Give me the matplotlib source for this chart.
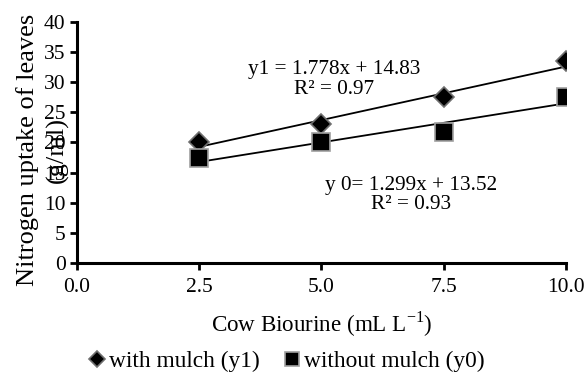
import numpy as np
import matplotlib
matplotlib.use("Agg")
import matplotlib.pyplot as plt

plt.rcParams["font.family"] = ["Liberation Serif", "DejaVu Serif"]
plt.rcParams["mathtext.fontset"] = "custom"
plt.rcParams["mathtext.rm"] = "Liberation Serif"

# 数据
dose = [2.5, 5.0, 7.5, 10.0]
with_mulch = [20.0, 23.0, 27.5, 33.5]
without_mulch = [17.5, 20.0, 21.8, 27.6]
# 趋势线系数 (图中方程)
fit_y1 = (1.778, 14.83)
fit_y0 = (1.299, 13.52)

fig = plt.figure(figsize=(5.86, 3.73), dpi=100)
ax = fig.add_axes([0.131, 0.295, 0.835, 0.646])

xs = np.array([dose[0], dose[-1]])
ax.plot(xs, fit_y1[0] * xs + fit_y1[1], color="black", lw=1.3, zorder=2)
ax.plot(xs, fit_y0[0] * xs + fit_y0[1], color="black", lw=1.3, zorder=2)

ax.plot(dose, with_mulch, ls="none", marker="D", ms=10.5, mfc="black",
        mec="#6f6f6f", mew=1.2, label="with mulch (y1)", zorder=3)
ax.plot(dose, without_mulch, ls="none", marker="s", ms=13, mfc="black",
        mec="#a0a0a0", mew=1.2, label="without mulch (y0)", zorder=3)

ax.text(5.26, 30.4, "y1 = 1.778x + 14.83\nR\u00b2 = 0.97", ha="center",
        va="center", fontsize=15.3, linespacing=1.05)
ax.text(6.83, 11.3, "y 0= 1.299x + 13.52\nR\u00b2 = 0.93", ha="center",
        va="center", fontsize=15.3, linespacing=1.05)

ax.set_xlim(0, 10)
ax.set_ylim(0, 40)
ax.set_xticks([0, 2.5, 5.0, 7.5, 10.0])
ax.set_xticklabels(["%.1f" % v for v in [0, 2.5, 5.0, 7.5, 10.0]])
ax.set_yticks(range(0, 41, 5))
ax.tick_params(labelsize=15.5, width=2, length=5, direction="out")
ax.tick_params(axis="x", pad=6)
ax.tick_params(axis="y", pad=3)

for s in ["top", "right"]:
    ax.spines[s].set_visible(False)
for s in ["left", "bottom"]:
    ax.spines[s].set_linewidth(2.2)

ax.set_xlabel("Cow Biourine (mL L$^{-1}$)", fontsize=16.6, labelpad=9)
ax.set_ylabel("Nitrogen uptake of leaves\n(g/ml)", fontsize=19, linespacing=1.4)
ax.yaxis.set_label_coords(-0.016, 0.47)

ax.legend(loc="center", bbox_to_anchor=(0.425, -0.41), ncol=2, frameon=False,
          fontsize=16.8, handletextpad=0.0, columnspacing=0.9, handlelength=1.0,
          markerscale=0.8, borderpad=0.1)

fig.savefig("out.png", dpi=100)
